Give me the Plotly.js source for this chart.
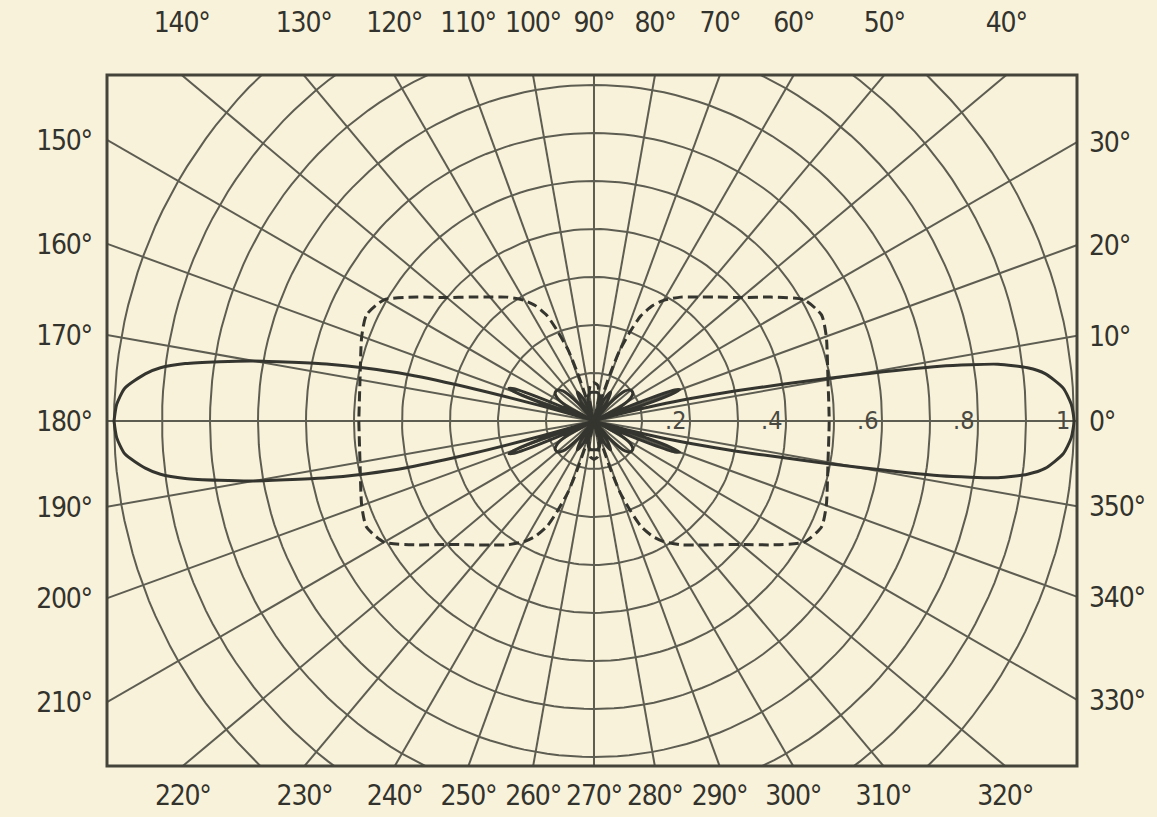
<!DOCTYPE html>
<html><head><meta charset="utf-8">
<script src="https://cdn.plot.ly/plotly-3.0.1.min.js"></script>
<style>html,body{margin:0;padding:0;background:#f9f2da;} #chart text{font-stretch:condensed;} #chart .xtick text,#chart .ytick text,#chart .x2tick text,#chart .y2tick text{letter-spacing:-1.2px;}</style>
</head><body><div id="chart" style="width:1157px;height:817px;"></div>
<script>
// ---- grid definition ----
const ringRadii = [0.1,0.2,0.3,0.4,0.5,0.6,0.7,0.8,0.9,1.0];
const spokeAngles = [0,10,20,30,40,50,60,70,80,90,100,110,120,130,140,150,160,170,180,190,200,210,220,230,240,250,260,270,280,290,300,310,320,330,340,350];
// ---- border angle labels ----
const topLabels = [140,130,120,110,100,90,80,70,60,50,40];
const bottomLabels = [220,230,240,250,260,270,280,290,300,310,320];
const leftLabels = [150,160,170,180,190,200,210];
const rightLabels = [30,20,10,0,350,340,330];
// ---- radial scale labels on the 0 deg axis ----
const radialLabelValues = [0.2,0.4,0.6,0.8,1.0];
const radialLabelText = ['.2','.4','.6','.8','1'];
// ---- solid pattern: right half (0..90 deg, mirrored about the 0-180 axis) ----
const solidRightAngles = [0,2,4,6,7,8,9,10,11,12,13,14,15,16,17,18,19,20,21,22,23,24,28,32,36,40,44,48,52,56,60,65,70,74,78,84,90];
const solidRightR      = [1.0,0.995,0.98,0.945,0.91,0.85,0.73,0.55,0.40,0.30,0.21,0.14,0.07,0.02,0.0,0.12,0.17,0.19,0.18,0.13,0.06,0.0,0.06,0.09,0.10,0.10,0.09,0.05,0.0,0.05,0.07,0.05,0.0,0.04,0.055,0.06,0.06];
// ---- solid pattern: left half (angle measured from 180 deg) ----
const solidLeftAngles = [0,2,4,6,7,8,9,10,11,12,13,14,15,16,17,18,19,20,21,22,23,24,25,28,32,36,40,44,48,52,56,60,65,70,74,78,84,90];
const solidLeftR      = [1.0,0.995,0.98,0.94,0.91,0.86,0.79,0.72,0.64,0.57,0.49,0.40,0.26,0.11,0.02,0.0,0.12,0.17,0.19,0.18,0.13,0.06,0.0,0.06,0.09,0.10,0.10,0.09,0.05,0.0,0.05,0.07,0.05,0.0,0.04,0.055,0.06,0.06];
// ---- dashed pattern, one quadrant ----
const dashedAngles = [0,10,20,25,30,35,40,45,50,55,60,63,66,68,70,71,71.5,72,78,84,90];
const dashedR      = [0.49,0.495,0.515,0.523,0.505,0.45,0.40,0.365,0.337,0.315,0.29,0.27,0.24,0.20,0.157,0.11,0.06,0.0,0.05,0.075,0.08];

// plot frame in data units (centre of the diagram = 0,0 ; unit radius = 1)
const xRange = [-1.0146, 1.0063];
const yRange = [-0.7188, 0.7208];

const d2r = Math.PI/180;
function toXY(A,R){return {x:A.map((a,i)=>R[i]*Math.cos(a*d2r)), y:A.map((a,i)=>R[i]*Math.sin(a*d2r))};}
function symPattern(angs, rs){
  const A=[], R=[];
  for(let i=0;i<angs.length;i++){A.push(angs[i]);R.push(rs[i]);}
  for(let i=angs.length-1;i>=0;i--){A.push(180-angs[i]);R.push(rs[i]);}
  for(let i=0;i<angs.length;i++){A.push(180+angs[i]);R.push(rs[i]);}
  for(let i=angs.length-1;i>=0;i--){A.push(360-angs[i]);R.push(rs[i]);}
  return toXY(A,R);
}
function twoHalfPattern(ra, rr, la, lr){
  const A=[], R=[];
  for(let i=0;i<ra.length;i++){A.push(ra[i]);R.push(rr[i]);}
  for(let i=la.length-1;i>=0;i--){A.push(180-la[i]);R.push(lr[i]);}
  for(let i=0;i<la.length;i++){A.push(180+la[i]);R.push(lr[i]);}
  for(let i=ra.length-1;i>=0;i--){A.push(360-ra[i]);R.push(rr[i]);}
  return toXY(A,R);
}
const gridColor = '#5d5d52';
const traces = [];
// rings
ringRadii.forEach(r=>{
  const xs=[], ys=[];
  for(let a=0;a<=360;a+=2){xs.push(r*Math.cos(a*d2r)); ys.push(r*Math.sin(a*d2r));}
  traces.push({x:xs,y:ys,mode:'lines',line:{color:gridColor,width:2},hoverinfo:'skip',showlegend:false});
});
// spokes
const sx=[], sy=[];
spokeAngles.forEach(a=>{sx.push(0,2*Math.cos(a*d2r),null); sy.push(0,2*Math.sin(a*d2r),null);});
traces.push({x:sx,y:sy,mode:'lines',line:{color:gridColor,width:2},hoverinfo:'skip',showlegend:false});
// patterns
const sp = twoHalfPattern(solidRightAngles, solidRightR, solidLeftAngles, solidLeftR);
traces.push({x:sp.x,y:sp.y,mode:'lines',line:{color:'#35352f',width:3,shape:'spline',smoothing:0.6},name:'solid',showlegend:false});
const dp = symPattern(dashedAngles, dashedR);
traces.push({x:dp.x,y:dp.y,mode:'lines',line:{color:'#35352f',width:3,dash:'10px,5px',shape:'spline',smoothing:0.6},name:'dashed',showlegend:false});
// dummy trace for secondary axes
traces.push({x:[0],y:[0],xaxis:'x2',yaxis:'y2',mode:'markers',marker:{opacity:0},hoverinfo:'skip',showlegend:false});

const yTop=yRange[1], yBot=yRange[0], xL=xRange[0], xR=xRange[1];
const topVals = topLabels.map(a=>yTop*Math.cos(a*d2r)/Math.sin(a*d2r));
const botVals = bottomLabels.map(a=>yBot*Math.cos(a*d2r)/Math.sin(a*d2r));
const leftVals = leftLabels.map(a=>xL*Math.sin(a*d2r)/Math.cos(a*d2r));
const rightVals = rightLabels.map(a=>xR*Math.sin(a*d2r)/Math.cos(a*d2r));
const deg = a=>a+'\u00b0';
const fam = '"DejaVu Sans Condensed","Liberation Sans Narrow","DejaVu Sans",sans-serif';
const tickFont = {family:fam,size:28,color:'#33332d'};

const axisBase = {showgrid:false,zeroline:false,showline:false,ticks:'',tickmode:'array',tickfont:tickFont,fixedrange:true,tickangle:0,automargin:false};
const layout = {
  width:1157,height:817,
  margin:{l:107,r:80,t:75,b:51,pad:0},
  paper_bgcolor:'#f9f2da',plot_bgcolor:'#f9f2da',
  showlegend:false,
  xaxis:Object.assign({},axisBase,{range:xRange,tickvals:botVals,ticktext:bottomLabels.map(deg),side:'bottom',ticklabelstandoff:10}),
  xaxis2:Object.assign({},axisBase,{range:xRange,tickvals:topVals,ticktext:topLabels.map(deg),side:'top',overlaying:'x',anchor:'y',ticklabelstandoff:36}),
  yaxis:Object.assign({},axisBase,{range:yRange,tickvals:leftVals,ticktext:leftLabels.map(deg),side:'left',ticklabelstandoff:14}),
  yaxis2:Object.assign({},axisBase,{range:yRange,tickvals:rightVals,ticktext:rightLabels.map(deg),side:'right',overlaying:'y',anchor:'x',ticklabelstandoff:11}),
  shapes:[{type:'rect',xref:'paper',yref:'paper',x0:0,x1:1,y0:0,y1:1,line:{color:'#44443b',width:3},layer:'above'}],
  annotations: radialLabelValues.map((v,i)=>({x:v,y:0,xref:'x',yref:'y',text:radialLabelText[i],showarrow:false,xanchor:'right',yanchor:'middle',xshift:-2,font:{family:fam,size:25,color:'#4a4a42'}}))
};
Plotly.newPlot('chart',traces,layout,{staticPlot:true});
</script></body></html>
